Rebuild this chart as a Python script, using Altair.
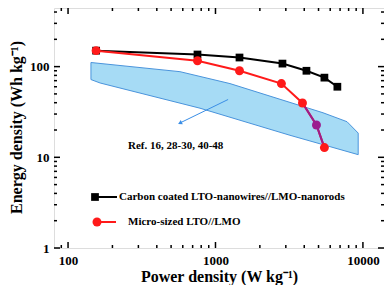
import altair as alt
import pandas as pd

# ---- data ----
power_cc = [155, 755, 1455, 2846, 4140, 5480, 6710]
energy_cc = [150, 136, 126, 108, 90, 75.6, 60]
power_ms = [155, 755, 1455, 2800, 3890, 4840, 5480]
energy_ms = [150, 116, 90, 65, 39.7, 22.7, 12.8]
# literature band outline (clockwise)
band_power = [143, 574, 1254, 5360, 7800, 9290, 9290, 3200, 785, 165, 143]
band_energy = [111, 88, 65, 31, 24.7, 18.5, 10.7, 17.5, 34.8, 66, 72]
# annotation
ref_text = ["Ref. 16, 28-30, 40-48"]
ref_pos = [255, 13.4]
arrow_from = [1218, 43.4]
arrow_to = [574, 23.9]
label_cc = "Carbon coated LTO-nanowires//LMO-nanorods"
label_ms = "Micro-sized LTO//LMO"
# ticks
x_major = [100, 1000, 10000]
x_minor = [90] + list(range(200, 1000, 100)) + list(range(2000, 10000, 1000))
y_major = [1, 10, 100]
y_minor = list(range(2, 10)) + list(range(20, 100, 10)) + [200, 300, 400]

W, H = 330, 240
FONT = "Liberation Serif"
xs = alt.Scale(type="log", domain=[80.3, 13900], nice=False)
ys = alt.Scale(type="log", domain=[1, 443], nice=False)

XAXIS = alt.Axis(values=x_major, format="d", ticks=False, grid=False, domain=False,
                 labelFont=FONT, labelFontWeight="bold", labelFontSize=13,
                 labelPadding=6, labelColor="black",
                 title="Power density (W kg⁻¹)", titleFont=FONT, titleFontWeight="bold",
                 titleFontSize=16, titleY=28, titleBaseline="middle", titleColor="black")
YAXIS = alt.Axis(values=y_major, format="d", ticks=False, grid=False, domain=False,
                 labelFont=FONT, labelFontWeight="bold", labelFontSize=13,
                 labelPadding=5, labelColor="black",
                 title="Energy density (Wh kg⁻¹)", titleFont=FONT, titleFontWeight="bold",
                 titleFontSize=16, titleX=-46, titleY=119, titleAngle=-90,
                 titleBaseline="top", titleAlign="center", titleColor="black")

cc = pd.DataFrame({"p": power_cc, "e": energy_cc, "i": range(len(power_cc))})
ms = pd.DataFrame({"p": power_ms, "e": energy_ms, "i": range(len(power_ms))})
band = pd.DataFrame({"p": band_power, "e": band_energy, "i": range(len(band_power))})

def X(f="p"):
    return alt.X(f"{f}:Q", scale=xs, axis=XAXIS)

def Y(f="e"):
    return alt.Y(f"{f}:Q", scale=ys, axis=YAXIS)

RED = "#ff1a1a"
PURPLE = "#9b1d8e"

band_layer = alt.Chart(band).mark_line(
    fill="#a6dbf5", stroke="#4a94dc", strokeWidth=1, interpolate="linear-closed"
).encode(x=X(), y=Y(), order="i:O")

arrow_df = pd.DataFrame({"p": [arrow_from[0]], "e": [arrow_from[1]],
                         "p2": [arrow_to[0]], "e2": [arrow_to[1]]})
arrow_line = alt.Chart(arrow_df).mark_rule(color="#3a8ee6", strokeWidth=1).encode(
    x=X(), y=Y(), x2="p2:Q", y2="e2:Q")
arrow_head = alt.Chart(arrow_df.rename(columns={"p": "a", "e": "b", "p2": "p", "e2": "e"})).mark_point(
    shape="triangle-up", filled=True, color="#3a8ee6", size=22, angle=244, opacity=1
).encode(x=X(), y=Y())

ref_df = pd.DataFrame({"p": [ref_pos[0]], "e": [ref_pos[1]], "t": ref_text})
ref_layer = alt.Chart(ref_df).mark_text(
    font=FONT, fontWeight="bold", fontSize=11, align="left", baseline="middle", color="black"
).encode(x=X(), y=Y(), text="t:N")

cc_line = alt.Chart(cc).mark_line(color="black", strokeWidth=2).encode(x=X(), y=Y(), order="i:O")
cc_pts = alt.Chart(cc).mark_point(shape="square", filled=True, color="black", size=60, opacity=1).encode(
    x=X(), y=Y())

ms_line = alt.Chart(ms).mark_line(color=RED, strokeWidth=2).encode(x=X(), y=Y(), order="i:O")
ms_in = ms.iloc[4:7]
ms_purple_line = alt.Chart(ms_in).mark_line(color=PURPLE, strokeWidth=2).encode(
    x=X(), y=Y(), order="i:O")
ms_pts = alt.Chart(ms.drop(index=5)).mark_point(shape="circle", filled=True, color=RED, size=80, opacity=1).encode(
    x=X(), y=Y())
ms_pts_in = alt.Chart(ms.iloc[5:6]).mark_point(shape="circle", filled=True, color=PURPLE, size=80, opacity=1).encode(
    x=X(), y=Y())

# inward ticks on all four sides
def xticks(vals, length):
    d = pd.DataFrame({"p": vals})
    b = alt.Chart(d).mark_rule(color="black", strokeWidth=1.5).encode(
        x=X(), y=alt.value(H), y2=alt.value(H - length))
    t = alt.Chart(d).mark_rule(color="black", strokeWidth=1.5).encode(
        x=X(), y=alt.value(0), y2=alt.value(length))
    return [b, t]

def yticks(vals, length):
    d = pd.DataFrame({"e": vals})
    l = alt.Chart(d).mark_rule(color="black", strokeWidth=1.5).encode(
        y=Y(), x=alt.value(0), x2=alt.value(length))
    r = alt.Chart(d).mark_rule(color="black", strokeWidth=1.5).encode(
        y=Y(), x=alt.value(W), x2=alt.value(W - length))
    return [l, r]

ticks = xticks(x_major, 6) + xticks(x_minor, 3) + yticks(y_major, 6) + yticks(y_minor, 3)

# legend
leg = pd.DataFrame({"t": [label_cc, label_ms]})
leg_cc_line = alt.Chart(leg.iloc[:1]).mark_rule(color="black", strokeWidth=2).encode(
    x=alt.value(41), x2=alt.value(63), y=alt.value(189))
leg_cc_pt = alt.Chart(leg.iloc[:1]).mark_point(shape="square", filled=True, color="black", size=60, opacity=1).encode(
    x=alt.value(41), y=alt.value(189))
leg_cc_txt = alt.Chart(leg.iloc[:1]).mark_text(
    font=FONT, fontWeight="bold", fontSize=11, align="left", baseline="middle", color="black"
).encode(x=alt.value(65), y=alt.value(189), text="t:N")
leg_ms_line = alt.Chart(leg.iloc[1:]).mark_rule(color=RED, strokeWidth=2).encode(
    x=alt.value(43), x2=alt.value(62), y=alt.value(214))
leg_ms_pt = alt.Chart(leg.iloc[1:]).mark_point(shape="circle", filled=True, color=RED, size=80, opacity=1).encode(
    x=alt.value(43), y=alt.value(214))
leg_ms_txt = alt.Chart(leg.iloc[1:]).mark_text(
    font=FONT, fontWeight="bold", fontSize=11, align="left", baseline="middle", color="black"
).encode(x=alt.value(74), y=alt.value(214), text="t:N")

chart = alt.layer(
    band_layer, arrow_line, arrow_head, ref_layer,
    cc_line, cc_pts, ms_line, ms_purple_line, ms_pts, ms_pts_in,
    *ticks,
    leg_cc_line, leg_cc_pt, leg_cc_txt, leg_ms_line, leg_ms_pt, leg_ms_txt,
).properties(
    width=W, height=H,
    autosize=alt.AutoSizeParams(type="none"),
    padding={"left": 46, "top": 0, "right": 0, "bottom": 37},
).configure_view(stroke="black", strokeWidth=2).configure(background="white")

chart.save("out.html", embed_options={"renderer": "svg", "actions": False})
